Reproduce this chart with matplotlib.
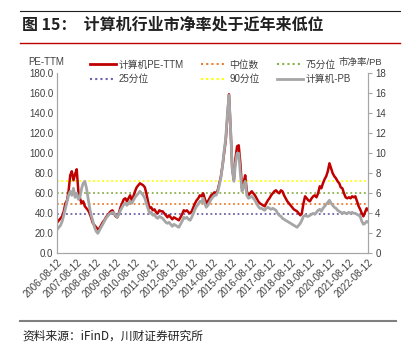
import matplotlib.pyplot as plt
import matplotlib.lines as mlines
import pandas as pd

plt.rcParams['font.family'] = ['Liberation Sans Narrow', 'Liberation Sans', 'Noto Sans CJK SC']

# monthly readings, 2006-08 .. 2022-08
pe = [31, 33, 35, 37, 42, 50, 53, 62, 78, 82, 73, 79, 84, 62, 55, 50, 52, 47, 45, 43,
      40, 35, 30, 28, 26, 24, 25, 28, 31, 33, 36, 38, 40, 42, 43, 40, 37, 36, 40, 46,
      50, 54, 55, 52, 55, 58, 53, 57, 62, 66, 68, 70, 69, 68, 66, 60, 52, 45, 46, 43,
      44, 41, 40, 43, 42, 42, 40, 38, 36, 38, 36, 34, 36, 35, 34, 33, 36, 39, 43, 42,
      43, 41, 40, 42, 46, 50, 53, 55, 58, 57, 60, 55, 50, 52, 55, 58, 59, 61, 60, 63,
      70, 77, 88, 100, 113, 135, 159, 125, 85, 73, 95, 107, 108, 90, 65, 70, 78, 62, 58, 60,
      62, 60, 58, 55, 52, 50, 49, 48, 47, 50, 53, 55, 58, 60, 62, 63, 61, 60, 63, 62,
      58, 55, 52, 50, 48, 46, 44, 43, 42, 40, 38, 40, 50, 57, 55, 53, 52, 55, 57, 58,
      56, 60, 67, 65, 70, 74, 77, 82, 90, 85, 80, 77, 75, 72, 70, 66, 65, 60, 56, 55,
      56, 55, 57, 56, 57, 52, 47, 44, 40, 37, 41, 45, 43]
pb = [2.4, 2.6, 2.8, 3.2, 3.8, 4.5, 5.2, 5.8, 6.2, 5.8, 6.5, 5.6, 6.0, 5.4, 5.6, 6.5, 7.0, 7.2, 6.5, 5.5,
      4.5, 3.8, 3.2, 2.6, 2.2, 2.0, 2.3, 2.6, 2.9, 3.2, 3.5, 3.7, 3.9, 4.0, 4.1, 4.0, 3.8, 3.6, 3.9, 4.3,
      4.6, 4.9, 5.0, 4.8, 5.0, 5.2, 5.0, 5.3, 5.6, 5.8, 6.0, 6.2, 6.0, 5.8, 5.5, 5.0, 4.5, 4.0, 4.1, 3.8,
      3.9, 3.6, 3.5, 3.7, 3.6, 3.5, 3.3, 3.1, 3.0, 3.1, 2.9, 2.7, 2.9, 2.8, 2.7, 2.6, 2.9, 3.2, 3.6, 3.5,
      3.6, 3.4, 3.3, 3.6, 4.0, 4.4, 4.7, 4.9, 5.2, 5.1, 5.5, 5.0, 4.6, 4.8, 5.1, 5.4, 5.6, 5.8, 5.8, 6.1,
      6.8, 7.6, 8.8, 10.2, 11.5, 13.8, 15.8, 12.5, 8.5, 7.2, 9.0, 10.0, 10.0, 8.0, 6.2, 6.6, 7.2, 5.8, 5.5, 5.6,
      5.7, 5.5, 5.3, 5.0, 4.7, 4.5, 4.5, 4.4, 4.3, 4.5, 4.6, 4.5, 4.4, 4.5, 4.4, 4.3, 4.0, 3.8, 3.7, 3.5,
      3.4, 3.3, 3.2, 3.1, 3.0, 2.9, 2.8, 2.7, 2.6, 2.8, 3.0, 3.3, 3.7, 3.8, 3.7, 3.7, 3.8, 3.9, 4.0, 3.9,
      4.1, 4.3, 4.4, 4.2, 4.5, 4.7, 4.9, 5.1, 5.3, 5.0, 4.8, 4.6, 4.5, 4.3, 4.2, 4.1, 4.0, 4.1, 4.0, 4.0,
      4.1, 4.0, 4.1, 4.0, 4.0, 3.9, 3.8, 3.7, 3.2, 2.9, 3.0, 3.2, 3.1]
median_pe = 49.5
p75_pe = 60.0
p25_pe = 39.0
p90_pe = 72.5
tick_years = list(range(2006, 2023))

dates = pd.date_range('2006-08-01', periods=len(pe), freq='MS') + pd.Timedelta(days=11)
ticks = [pd.Timestamp(f'{y}-08-12') for y in tick_years]

fig = plt.figure(figsize=(4.08, 3.51), dpi=100)
ax = fig.add_axes([0.1404, 0.2783, 0.7623, 0.5129])
ax2 = ax.twinx()

x0, x1 = dates[0], dates[-1]
ax.plot([x0, x1], [median_pe] * 2, color='#ED7D31', lw=1.3, ls=(0, (1, 1.5)), zorder=1)
ax.plot([x0, x1], [p75_pe] * 2, color='#8DB04B', lw=1.3, ls=(0, (1, 1.5)), zorder=1)
ax.plot([x0, x1], [p25_pe] * 2, color='#7060A8', lw=1.3, ls=(0, (1, 1.5)), zorder=1)
ax.plot([x0, x1], [p90_pe] * 2, color='#FFFF00', lw=1.3, ls=(0, (1, 1.5)), zorder=1)
ax.plot(dates, pe, color='#C00000', lw=1.8, zorder=2)
ax2.plot(dates, pb, color='#A6A6A6', lw=2.0)

ax.set_xlim(x0, x1)
ax.set_ylim(0, 180)
ax2.set_ylim(0, 18)
ax.set_yticks(range(0, 181, 20))
ax.set_yticklabels([f'{v:.1f}' for v in range(0, 181, 20)])
ax2.set_yticks(range(0, 19, 2))
ax.set_xticks(ticks)
ax.set_xticklabels([f'{y}-08-12' for y in tick_years], rotation=45, ha='right',
                   rotation_mode='anchor')

for a in (ax, ax2):
    for s in a.spines.values():
        s.set_color('#A6A6A6')
    a.spines['top'].set_visible(False)
    a.tick_params(labelsize=7, colors='#404040', length=0, pad=3)
ax2.tick_params(axis='y', length=3, color='#A6A6A6', pad=2)

fig.text(0.069, 0.815, 'PE-TTM', fontsize=7, color='#404040')
fig.text(0.83, 0.815, '市净率/PB', fontsize=6.8, color='#404040')

handles = [mlines.Line2D([], [], color='#C00000', lw=2),
           mlines.Line2D([], [], color='#7060A8', lw=1.5, ls=(0, (1, 1.5))),
           mlines.Line2D([], [], color='#ED7D31', lw=1.5, ls=(0, (1, 1.5))),
           mlines.Line2D([], [], color='#FFFF00', lw=1.5, ls=(0, (1, 1.5))),
           mlines.Line2D([], [], color='#8DB04B', lw=1.5, ls=(0, (1, 1.5))),
           mlines.Line2D([], [], color='#A6A6A6', lw=2)]
labels = ['计算机PE-TTM', '25分位', '中位数', '90分位', '75分位', '计算机-PB']
fig.legend(handles, labels, ncol=3, loc='upper left', bbox_to_anchor=(0.2, 0.855),
           frameon=False, fontsize=7, handlelength=2.6, handletextpad=0.3,
           columnspacing=1.8, labelspacing=0.45, labelcolor='#404040')

fig.add_artist(mlines.Line2D([0.05, 0.98], [0.970, 0.970], color='#202020', lw=0.8))
fig.text(0.055, 0.931, '图 15：  计算机行业市净率处于近年来低位', fontsize=11.5,
         fontweight='bold', va='center', color='#202020',
         family=['Noto Sans CJK SC', 'DejaVu Sans'])
fig.add_artist(mlines.Line2D([0.05, 0.98], [0.877, 0.877], color='#C00000', lw=1))
fig.add_artist(mlines.Line2D([0.05, 0.97], [0.086, 0.086], color='#808080', lw=1.5))
fig.text(0.055, 0.043, '资料来源：iFinD，川财证券研究所', fontsize=8.5, va='center',
         color='#202020', family=['Noto Sans CJK SC', 'DejaVu Sans'])

fig.savefig('out.png', dpi=100)
